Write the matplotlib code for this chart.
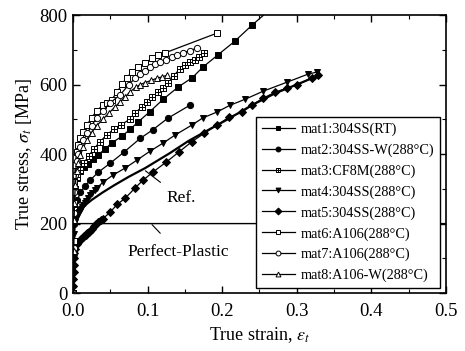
"""
True stress-strain curves of the eight materials, with the reference
curve and the perfect-plastic idealisation.
"""

import matplotlib
matplotlib.use("Agg")
import matplotlib.pyplot as plt
from matplotlib.path import Path
from matplotlib.ticker import MultipleLocator

plt.rcParams.update({
    "font.family": ["Liberation Serif", "DejaVu Serif"],
    "mathtext.fontset": "stix",
    "xtick.direction": "in",
    "ytick.direction": "in",
    "xtick.top": True,
    "ytick.right": True,
})

# ── Data (strain [-], stress [MPa]) ──────────────────────────────────────────

mat1_strain = [0, 0.0008, 0.0015, 0.003, 0.006, 0.010, 0.015, 0.020, 0.027, 0.034,
               0.043, 0.052, 0.066, 0.077, 0.087, 0.103, 0.121, 0.141, 0.160, 0.174,
               0.194, 0.217, 0.240, 0.262]
mat1_stress = [0, 150, 250, 300, 330, 350, 362, 372, 385, 398,
               415, 432, 452, 472, 492, 522, 558, 593, 620, 650,
               685, 725, 771, 812]

mat2_strain = [0, 0.0008, 0.0015, 0.003, 0.006, 0.010, 0.016, 0.023, 0.034, 0.050,
               0.068, 0.090, 0.107, 0.127, 0.157]
mat2_stress = [0, 120, 200, 240, 268, 290, 308, 325, 348, 374,
               405, 445, 470, 503, 541]

mat3_strain = [0, 0.0008, 0.0015, 0.003, 0.006, 0.010, 0.015, 0.021, 0.028, 0.036,
               0.045, 0.055, 0.065, 0.076, 0.083, 0.092, 0.099, 0.106, 0.114, 0.121,
               0.127, 0.135, 0.143, 0.150, 0.157, 0.163, 0.169, 0.176]
mat3_stress = [0, 140, 240, 300, 335, 355, 375, 395, 415, 435,
               455, 472, 485, 500, 518, 535, 550, 564, 578, 590,
               604, 625, 645, 655, 665, 672, 680, 692]

mat4_strain = [0, 0.0008, 0.0015, 0.003, 0.004, 0.005, 0.006, 0.007, 0.008, 0.009,
               0.010, 0.011, 0.012, 0.014, 0.016, 0.018, 0.020, 0.023, 0.026, 0.029,
               0.032, 0.040, 0.054, 0.070, 0.086, 0.103, 0.121, 0.137, 0.159, 0.174,
               0.193, 0.210, 0.231, 0.255, 0.287, 0.315, 0.327]
mat4_stress = [0, 100, 170, 205, 215, 220, 225, 230, 233, 237,
               240, 243, 248, 254, 260, 266, 273, 282, 289, 296,
               302, 319, 340, 360, 383, 408, 432, 455, 483, 504,
               521, 540, 558, 581, 607, 630, 636]

mat5_strain = [0, 0.0003, 0.0006, 0.0009, 0.0012, 0.0015, 0.0018, 0.003, 0.005, 0.007,
               0.009, 0.011, 0.013, 0.015, 0.017, 0.019, 0.021, 0.023, 0.025, 0.028,
               0.031, 0.034, 0.037, 0.040, 0.050, 0.059, 0.070, 0.083, 0.094, 0.107,
               0.125, 0.142, 0.159, 0.176, 0.193, 0.209, 0.227, 0.240, 0.255, 0.271,
               0.287, 0.300, 0.320, 0.328]
mat5_stress = [0, 20, 40, 60, 80, 100, 115, 128, 140, 147,
               152, 157, 161, 165, 168, 172, 176, 180, 185, 192,
               198, 204, 209, 214, 233, 255, 273, 302, 325, 348,
               377, 406, 435, 460, 483, 506, 521, 541, 561, 578,
               590, 599, 619, 627]

mat6_strain = [0, 0.0008, 0.0015, 0.002, 0.003, 0.005, 0.007, 0.010, 0.014, 0.019,
               0.025, 0.032, 0.040, 0.046, 0.052, 0.059, 0.066, 0.072, 0.079, 0.087,
               0.097, 0.106, 0.114, 0.123, 0.193]
mat6_stress = [0, 150, 260, 320, 370, 405, 425, 445, 465, 485,
               505, 525, 541, 548, 557, 578, 602, 620, 636, 650,
               662, 676, 685, 691, 748]

mat7_strain = [0, 0.0008, 0.0015, 0.002, 0.003, 0.005, 0.007, 0.010, 0.014, 0.019,
               0.025, 0.032, 0.040, 0.050, 0.063, 0.075, 0.083, 0.090, 0.097, 0.103,
               0.110, 0.117, 0.125, 0.133, 0.140, 0.148, 0.157, 0.166]
mat7_stress = [0, 130, 230, 290, 340, 380, 400, 420, 440, 460,
               482, 505, 525, 548, 570, 600, 618, 630, 640, 650,
               658, 665, 672, 680, 686, 692, 698, 705]

mat8_strain = [0, 0.0008, 0.0015, 0.002, 0.003, 0.005, 0.007, 0.010, 0.014, 0.019,
               0.025, 0.032, 0.040, 0.048, 0.056, 0.063, 0.070, 0.077, 0.084, 0.090,
               0.097, 0.105, 0.112, 0.119, 0.126]
mat8_stress = [0, 120, 210, 260, 310, 350, 375, 398, 420, 440,
               462, 482, 500, 518, 535, 550, 565, 580, 592, 600,
               606, 612, 618, 622, 627]

ref_strain = [0, 0.002, 0.005, 0.013, 0.025, 0.040, 0.055, 0.075, 0.097, 0.130,
              0.155, 0.181, 0.209, 0.240, 0.271, 0.300, 0.330]
ref_stress = [0, 205, 222, 247, 268, 290, 310, 335, 360, 403,
              438, 469, 502, 541, 575, 600, 627]

pp_strain = [0, 0.001, 0.5]
pp_stress = [0, 200, 200]

labels = [
    "mat1:304SS(RT)",
    "mat2:304SS-W(288°C)",
    "mat3:CF8M(288°C)",
    "mat4:304SS(288°C)",
    "mat5:304SS(288°C)",
    "mat6:A106(288°C)",
    "mat7:A106(288°C)",
    "mat8:A106-W(288°C)",
]

# square with a cross inside, for mat3
boxplus = Path(
    [(-1, -1), (1, -1), (1, 1), (-1, 1), (-1, -1),
     (-1, 0), (1, 0), (0, -1), (0, 1)],
    [Path.MOVETO, Path.LINETO, Path.LINETO, Path.LINETO, Path.CLOSEPOLY,
     Path.MOVETO, Path.LINETO, Path.MOVETO, Path.LINETO],
)

series = [
    (mat1_strain, mat1_stress, "s", "black", 4.0),
    (mat2_strain, mat2_stress, "o", "black", 4.5),
    (mat3_strain, mat3_stress, boxplus, "white", 4.0),
    (mat4_strain, mat4_stress, "v", "black", 5.0),
    (mat5_strain, mat5_stress, "D", "black", 4.0),
    (mat6_strain, mat6_stress, "s", "white", 4.0),
    (mat7_strain, mat7_stress, "o", "white", 4.5),
    (mat8_strain, mat8_stress, "^", "white", 4.5),
]

# ── Plot ─────────────────────────────────────────────────────────────────────

fig = plt.figure(figsize=(4.65, 3.51), dpi=100)
ax = fig.add_axes([0.157, 0.165, 0.802, 0.792])

ax.plot(pp_strain, pp_stress, color="black", lw=1.0, zorder=1)
ax.plot(ref_strain, ref_stress, color="black", lw=1.6, zorder=1)

for (x, y, mk, fc, ms), lab in zip(series, labels):
    ax.plot(x, y, color="black", lw=0.9, marker=mk, markersize=ms,
            markerfacecolor=fc, markeredgecolor="black", markeredgewidth=0.7,
            label=lab, zorder=2)

ax.annotate("Ref.", xy=(0.097, 352), xytext=(0.145, 273),
            fontsize=12.5, ha="center", va="center",
            arrowprops=dict(arrowstyle="-", color="black", lw=0.8,
                            shrinkA=6, shrinkB=0))
ax.annotate("Perfect-Plastic", xy=(0.106, 197), xytext=(0.141, 118),
            fontsize=12.5, ha="center", va="center",
            arrowprops=dict(arrowstyle="-", color="black", lw=0.8,
                            shrinkA=8, shrinkB=0))

ax.set_xlim(0, 0.5)
ax.set_ylim(0, 800)
ax.xaxis.set_major_locator(MultipleLocator(0.1))
ax.xaxis.set_minor_locator(MultipleLocator(0.05))
ax.yaxis.set_major_locator(MultipleLocator(200))
ax.yaxis.set_minor_locator(MultipleLocator(100))
ax.tick_params(which="major", length=5, width=1, labelsize=13.5)
ax.tick_params(which="minor", length=3, width=0.8)
ax.tick_params(axis="x", which="major", pad=7)
ax.tick_params(axis="y", which="major", pad=4)
ax.xaxis.set_major_formatter(plt.FuncFormatter(lambda v, p: f"{v:.1f}"))
for s in ax.spines.values():
    s.set_linewidth(1.2)

ax.set_xlabel("True strain, $\\varepsilon_t$", fontsize=13, labelpad=4)
ax.set_ylabel("True stress, $\\sigma_t$ [MPa]", fontsize=13, labelpad=4)

leg = ax.legend(loc="lower right", bbox_to_anchor=(0.983, 0.018),
                fontsize=10.3, frameon=True, fancybox=False, framealpha=1,
                edgecolor="black", handlelength=2.3, handletextpad=0.4,
                labelspacing=0.52, borderpad=0.4, borderaxespad=0)
leg.get_frame().set_linewidth(1.0)
for h in leg.get_lines():
    h.set_markersize(3.5)

fig.savefig("out.png", dpi=100)
